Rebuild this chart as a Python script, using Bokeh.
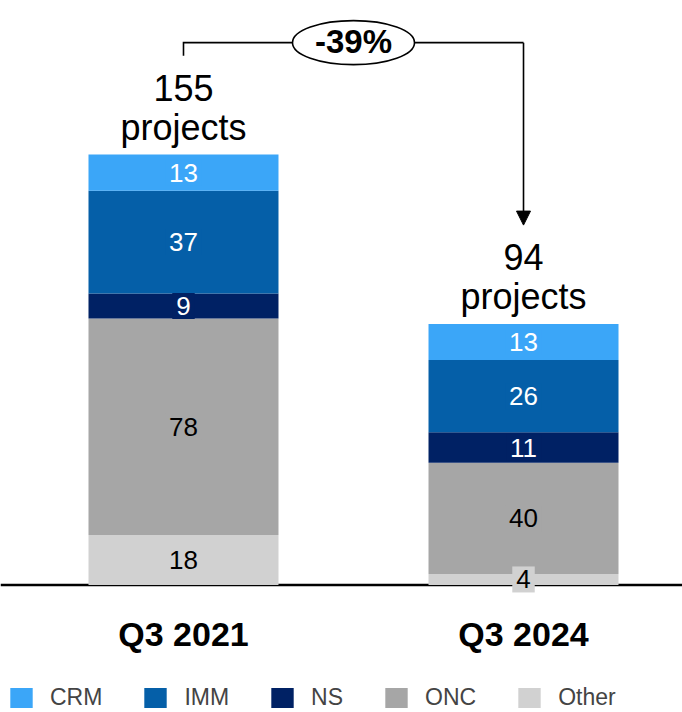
from bokeh.plotting import figure
from bokeh.models import Range1d, ColumnDataSource, Legend, LegendItem, Span, Arrow, NormalHead
from bokeh.core.properties import value
from bokeh.embed import file_html
from bokeh.resources import INLINE

# ---- data ----
periods = ["Q3 2021", "Q3 2024"]
stack_order = ["Other", "ONC", "NS", "IMM", "CRM"]   # bottom -> top
legend_order = ["CRM", "IMM", "NS", "ONC", "Other"]
crm = [13, 13]
imm = [37, 26]
ns = [9, 11]
onc = [78, 40]
other = [18, 4]

series = {"CRM": crm, "IMM": imm, "NS": ns, "ONC": onc, "Other": other}
colors = {"CRM": "#3BA6F8", "IMM": "#055FA8", "NS": "#002164", "ONC": "#A6A6A6", "Other": "#D1D1D1"}
label_colors = {"CRM": "white", "IMM": "white", "NS": "white", "ONC": "black", "Other": "black"}

xpos = list(range(len(periods)))
totals = [sum(series[k][i] for k in stack_order) for i in xpos]
pct = round((totals[1] - totals[0]) / totals[0] * 100)

FONT = value("Liberation Sans")

W, H = 682, 712
p = figure(width=W, height=H, output_backend="svg", toolbar_location=None,
           x_range=Range1d(-0.5382, 1.4676), y_range=Range1d(-45.91, 210.48),
           x_axis_type=None, y_axis_type=None, min_border=0)
p.grid.visible = False
p.outline_line_color = None
p.background_fill_color = "white"
p.border_fill_color = "white"

# baseline
p.add_layout(Span(location=0, dimension="width", line_color="black", line_width=2.5, level="underlay"))

# stacked bars
data = {"x": xpos}
for k in stack_order:
    data[k] = series[k]
src = ColumnDataSource(data)
rends = p.vbar_stack(stack_order, x="x", width=0.5588, source=src,
                     color=[colors[k] for k in stack_order], line_width=0)
rmap = dict(zip(stack_order, rends))

# segment labels
lx, ly, lt, lc, lb = [], [], [], [], []
for i in xpos:
    base = 0
    for k in stack_order:
        v = series[k][i]
        lx.append(i); ly.append(base + v / 2); lt.append(str(v))
        lc.append(label_colors[k]); lb.append(colors[k])
        base += v
lsrc = ColumnDataSource(dict(x=lx, y=ly, t=lt, c=lc, b=lb))
p.text(x="x", y="y", text="t", source=lsrc, text_color="c", text_font=FONT,
       text_font_size="26px", text_align="center", text_baseline="middle",
       background_fill_color="b", padding=4)

# totals
tsrc = ColumnDataSource(dict(x=xpos, y=totals, t=[str(t) for t in totals], pr=["projects"] * len(xpos)))
p.text(x="x", y="y", text="t", source=tsrc, y_offset=-67, text_font=FONT, text_font_size="36px",
       text_align="center", text_baseline="alphabetic", text_color="black")
p.text(x="x", y="y", text="pr", source=tsrc, y_offset=-27, text_font=FONT, text_font_size="36px",
       text_align="center", text_baseline="alphabetic", text_color="black")

# category labels
csrc = ColumnDataSource(dict(x=xpos, y=[0] * len(xpos), t=periods))
p.text(x="x", y="y", text="t", source=csrc, y_offset=49, text_font=FONT, text_font_size="34px",
       text_font_style="bold", text_align="center", text_baseline="alphabetic", text_color="black")

# change bracket
gap = 35.6
bracket_y = max(totals) + 40.3
p.line(x=[xpos[0], xpos[0], xpos[1]], y=[totals[0] + gap, bracket_y, bracket_y],
       line_color="black", line_width=1.6, line_join="miter")
p.add_layout(Arrow(end=NormalHead(size=14, fill_color="black", line_color="black"),
                   x_start=xpos[1], y_start=bracket_y, x_end=xpos[1], y_end=totals[1] + gap,
                   line_color="black", line_width=1.6))
mid = (xpos[0] + xpos[1]) / 2
p.ellipse(x=[mid], y=[bracket_y], width=122, height=44, width_units="screen", height_units="screen",
          fill_color="white", line_color="black", line_width=1.6)
p.text(x=[mid], y=[bracket_y], text=[f"{pct}%"], y_offset=-1, text_font=FONT, text_font_size="33px",
       text_font_style="bold", text_align="center", text_baseline="middle", text_color="black")

# legend
legend = Legend(items=[LegendItem(label=k, renderers=[rmap[k]]) for k in legend_order],
                orientation="horizontal", location=(7, 1), glyph_width=28, glyph_height=25,
                label_standoff=15, spacing=39, padding=0, margin=0,
                border_line_alpha=0, background_fill_alpha=0,
                label_text_font="Liberation Sans", label_text_font_size="23px")
p.add_layout(legend, "center")

open("out.html", "w").write(file_html(p, INLINE))
